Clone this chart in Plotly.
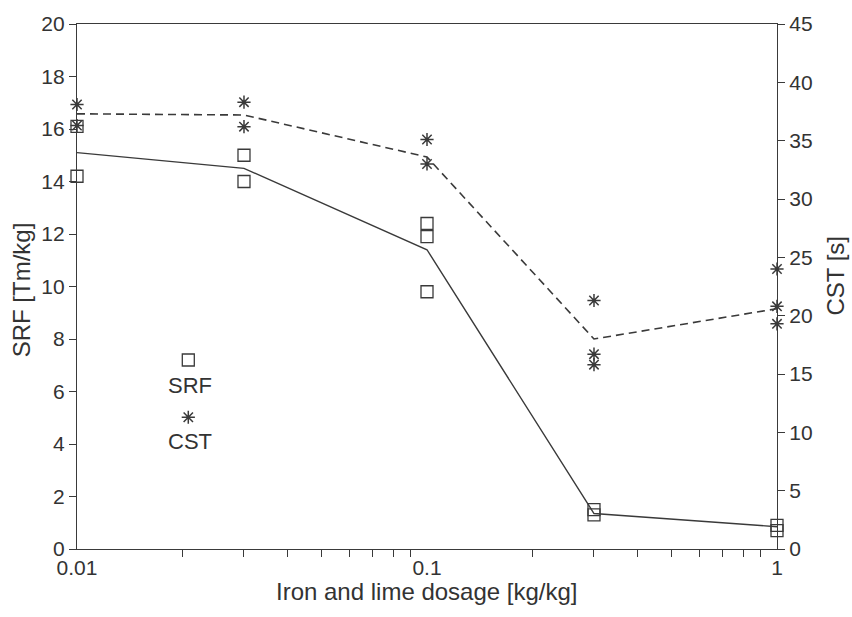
import plotly.graph_objects as go

# Dosage levels for the averaged curves
dose = [0.01, 0.03, 0.1, 0.3, 1]
srf_mean = [15.1, 14.5, 11.4, 1.35, 0.85]
cst_mean = [37.3, 37.2, 33.6, 18.0, 20.6]

# Individual measurements
srf_x = [0.01, 0.01, 0.03, 0.03, 0.1, 0.1, 0.1, 0.3, 0.3, 1, 1]
srf_y = [16.1, 14.2, 15.0, 14.0, 12.4, 11.9, 9.8, 1.3, 1.5, 0.9, 0.7]
cst_x = [0.01, 0.01, 0.03, 0.03, 0.1, 0.1, 0.3, 0.3, 0.3, 1, 1, 1]
cst_y = [38.1, 36.3, 38.3, 36.2, 35.1, 33.0, 21.3, 16.7, 15.8, 24.0, 20.8, 19.3]

x_ticks = [0.01, 0.1, 1]
x_tick_text = ["0.01", "0.1", "1"]
x_minor = [0.02, 0.03, 0.04, 0.05, 0.06, 0.07, 0.08, 0.09,
           0.2, 0.3, 0.4, 0.5, 0.6, 0.7, 0.8, 0.9]

ink = "#3a3a3a"
fam = "Liberation Sans, Arial, sans-serif"
tick_font = dict(family=fam, size=21, color="#333")
title_font = dict(family=fam, size=24, color="#333")
key_font = dict(family=fam, size=22, color="#333")

square = dict(symbol="square-open", size=12, color=ink, line=dict(width=1.3, color=ink))
star = dict(symbol="asterisk-open", size=11, color=ink, line=dict(width=1.5, color=ink))

fig = go.Figure()

fig.add_trace(go.Scatter(x=dose, y=srf_mean, mode="lines",
                         line=dict(color=ink, width=1.4), xaxis="x", yaxis="y"))
fig.add_trace(go.Scatter(x=srf_x, y=srf_y, mode="markers", marker=square,
                         cliponaxis=False, xaxis="x", yaxis="y"))
fig.add_trace(go.Scatter(x=dose, y=cst_mean, mode="lines",
                         line=dict(color=ink, width=1.6, dash="8px,5px"),
                         xaxis="x", yaxis="y2"))
fig.add_trace(go.Scatter(x=cst_x, y=cst_y, mode="markers", marker=star,
                         cliponaxis=False, xaxis="x", yaxis="y2"))

# Legend keys drawn on a hidden unit overlay
fig.add_trace(go.Scatter(x=[0.159], y=[0.36], mode="markers", marker=square,
                         xaxis="x3", yaxis="y3"))
fig.add_trace(go.Scatter(x=[0.159], y=[0.251], mode="markers", marker=star,
                         xaxis="x3", yaxis="y3"))

fig.add_annotation(x=0.162, y=0.311, xref="paper", yref="paper", text="SRF",
                   xanchor="center", yanchor="middle", showarrow=False, font=key_font)
fig.add_annotation(x=0.162, y=0.204, xref="paper", yref="paper", text="CST",
                   xanchor="center", yanchor="middle", showarrow=False, font=key_font)

# Axis titles
fig.add_annotation(x=0.5, y=-0.081, xref="paper", yref="paper",
                   text="Iron and lime dosage [kg/kg]", xanchor="center",
                   yanchor="middle", showarrow=False, font=title_font)
fig.add_annotation(x=-0.079, y=0.494, xref="paper", yref="paper",
                   text="SRF [Tm/kg]", textangle=-90, xanchor="center",
                   yanchor="middle", showarrow=False, font=title_font)
fig.add_annotation(x=1.083, y=0.521, xref="paper", yref="paper",
                   text="CST [s]", textangle=-90, xanchor="center",
                   yanchor="middle", showarrow=False, font=title_font)

axis_common = dict(showgrid=False, zeroline=False, showline=True, linecolor=ink,
                   linewidth=1.3, tickcolor=ink, tickfont=tick_font)

fig.update_layout(
    width=852, height=617,
    margin=dict(l=77, r=75, t=15, b=68),
    paper_bgcolor="white", plot_bgcolor="white",
    showlegend=False,
    xaxis=dict(type="log", range=[-2, 0], tickvals=x_ticks, ticktext=x_tick_text,
               mirror=True, ticks="", ticklen=0,
               minor=dict(ticks="outside", ticklen=7, tickcolor=ink,
                          tickvals=x_minor, showgrid=False),
               **axis_common),
    yaxis=dict(range=[0, 20], dtick=2, ticks="outside", ticklen=7, **axis_common),
    yaxis2=dict(range=[0, 45], dtick=5, overlaying="y", side="right",
                ticks="outside", ticklen=7, **axis_common),
    xaxis3=dict(range=[0, 1], overlaying="x", visible=False),
    yaxis3=dict(range=[0, 1], overlaying="y", visible=False),
)

fig.write_html("out.html")
